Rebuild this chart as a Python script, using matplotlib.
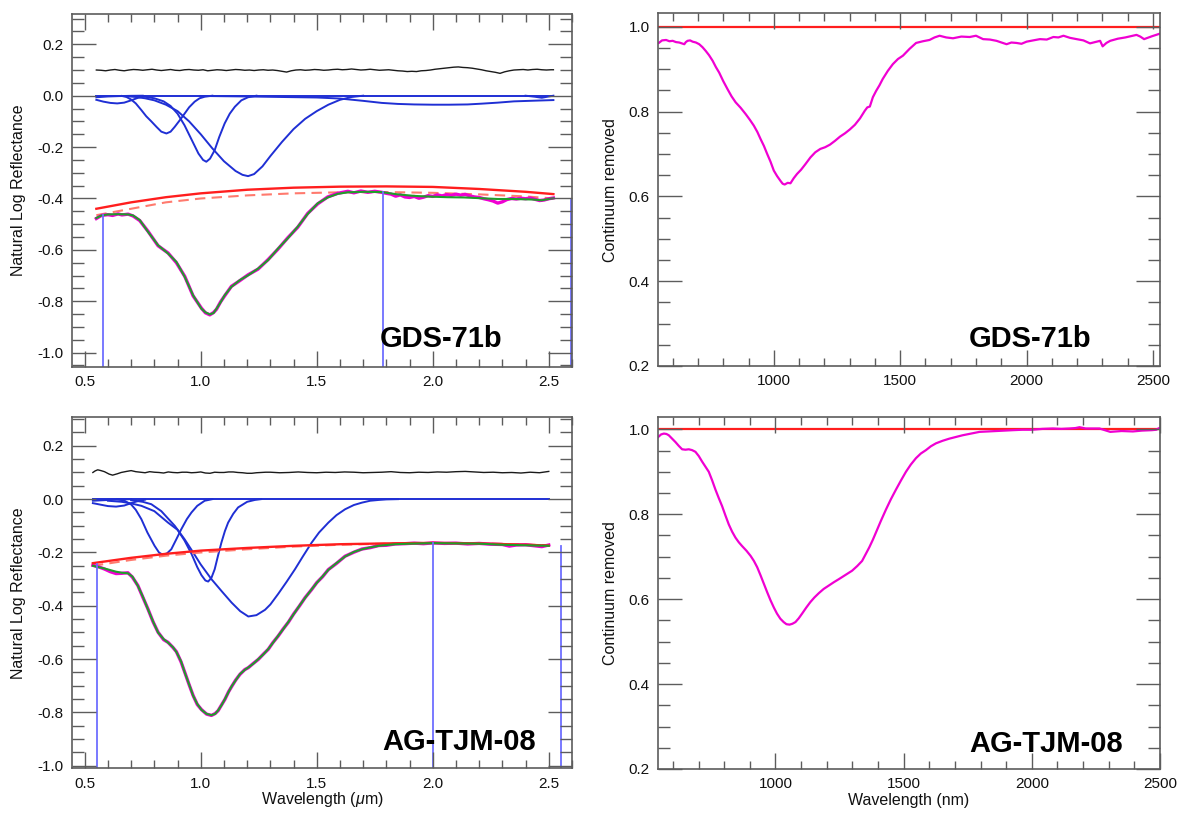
import matplotlib
matplotlib.use("Agg")
import matplotlib.pyplot as plt
from matplotlib.ticker import MultipleLocator, FormatStrFormatter

plt.rcParams['font.family'] = ['Liberation Sans', 'DejaVu Sans']
plt.rcParams['mathtext.fontset'] = 'custom'
plt.rcParams['mathtext.rm'] = 'Liberation Sans'
plt.rcParams['mathtext.it'] = 'Liberation Sans:italic'

# ---------------- GDS-71b (top-left) : natural log reflectance ----------------
gds_wl = [0.550, 0.572, 0.600, 0.644, 0.687, 0.708, 0.737, 0.773, 0.816, 0.859, 0.895,
          0.931, 0.967, 1.003, 1.020, 1.039, 1.055, 1.068, 1.085, 1.103, 1.132, 1.168,
          1.204, 1.247, 1.290, 1.333, 1.375, 1.418, 1.461, 1.504, 1.547, 1.590, 1.634,
          1.705, 1.777, 1.849, 1.921, 1.993, 2.065, 2.136, 2.208, 2.280, 2.346, 2.430,
          2.470, 2.520]
gds_model = [-0.476, -0.466, -0.462, -0.461, -0.462, -0.466, -0.484, -0.530, -0.582, -0.614,
             -0.647, -0.705, -0.777, -0.829, -0.843, -0.851, -0.846, -0.829, -0.805, -0.777,
             -0.744, -0.718, -0.699, -0.673, -0.640, -0.595, -0.555, -0.510, -0.460, -0.419,
             -0.396, -0.382, -0.376, -0.374, -0.375, -0.384, -0.390, -0.393, -0.395, -0.396,
             -0.399, -0.402, -0.402, -0.404, -0.407, -0.399]
gds_data_wl = [0.550, 0.572, 0.600, 0.620, 0.644, 0.660, 0.687, 0.708, 0.737, 0.773, 0.816,
               0.859, 0.895, 0.931, 0.967, 1.003, 1.020, 1.039, 1.055, 1.068, 1.085, 1.103,
               1.132, 1.168, 1.204, 1.247, 1.290, 1.333, 1.375, 1.418, 1.461, 1.504, 1.547,
               1.590, 1.634, 1.660, 1.690, 1.720, 1.750, 1.780, 1.800, 1.820, 1.840, 1.860,
               1.880, 1.900, 1.920, 1.940, 1.960, 1.980, 2.000, 2.020, 2.040, 2.060, 2.080,
               2.100, 2.120, 2.140, 2.160, 2.180, 2.200, 2.220, 2.240, 2.260, 2.280, 2.300,
               2.320, 2.340, 2.360, 2.380, 2.400, 2.420, 2.440, 2.460, 2.480, 2.500, 2.520]
gds_data = [-0.478, -0.466, -0.463, -0.466, -0.460, -0.464, -0.461, -0.468, -0.486, -0.528,
            -0.584, -0.612, -0.650, -0.703, -0.779, -0.827, -0.845, -0.853, -0.844, -0.831,
            -0.803, -0.779, -0.742, -0.720, -0.697, -0.675, -0.638, -0.597, -0.553, -0.512,
            -0.458, -0.421, -0.394, -0.380, -0.372, -0.378, -0.371, -0.376, -0.372, -0.376,
            -0.380, -0.383, -0.391, -0.386, -0.394, -0.396, -0.392, -0.399, -0.395, -0.389,
            -0.392, -0.386, -0.390, -0.385, -0.388, -0.383, -0.387, -0.384, -0.390, -0.394,
            -0.396, -0.401, -0.405, -0.410, -0.418, -0.413, -0.404, -0.400, -0.402, -0.399,
            -0.401, -0.398, -0.403, -0.408, -0.406, -0.401, -0.398]
gds_cont_wl = [0.55, 0.70, 0.85, 1.00, 1.20, 1.40, 1.60, 1.80, 2.00, 2.20, 2.40, 2.52]
gds_cont = [-0.440, -0.415, -0.395, -0.380, -0.366, -0.358, -0.354, -0.353, -0.355, -0.363,
            -0.374, -0.383]
gds_cont2 = [-0.465, -0.440, -0.415, -0.400, -0.388, -0.380, -0.376, -0.375, -0.378, -0.384,
             -0.392, -0.400]
gds_resid_wl = [0.55, 0.57, 0.59, 0.61, 0.63, 0.65, 0.67, 0.69, 0.71, 0.73, 0.75, 0.77, 0.79,
                0.81, 0.83, 0.85, 0.87, 0.89, 0.91, 0.93, 0.95, 0.97, 0.99, 1.01, 1.03, 1.05,
                1.07, 1.09, 1.11, 1.13, 1.15, 1.17, 1.19, 1.21, 1.23, 1.25, 1.27, 1.29, 1.31,
                1.33, 1.35, 1.37, 1.39, 1.41, 1.43, 1.45, 1.47, 1.49, 1.51, 1.53, 1.55, 1.57,
                1.59, 1.61, 1.63, 1.65, 1.67, 1.69, 1.71, 1.73, 1.75, 1.77, 1.79, 1.81, 1.83,
                1.85, 1.87, 1.89, 1.91, 1.93, 1.95, 1.97, 1.99, 2.01, 2.03, 2.05, 2.07, 2.09,
                2.11, 2.13, 2.15, 2.17, 2.19, 2.21, 2.23, 2.25, 2.27, 2.29, 2.31, 2.33, 2.35,
                2.37, 2.39, 2.41, 2.43, 2.45, 2.47, 2.49, 2.51, 2.52]
gds_resid = [0.100, 0.099, 0.097, 0.100, 0.102, 0.099, 0.097, 0.100, 0.102, 0.101, 0.099,
             0.101, 0.103, 0.100, 0.098, 0.100, 0.102, 0.099, 0.098, 0.101, 0.102, 0.100,
             0.099, 0.101, 0.097, 0.099, 0.101, 0.100, 0.098, 0.100, 0.102, 0.101, 0.099,
             0.100, 0.098, 0.100, 0.101, 0.099, 0.100, 0.098, 0.095, 0.092, 0.097, 0.100,
             0.101, 0.099, 0.100, 0.102, 0.101, 0.099, 0.100, 0.102, 0.103, 0.101, 0.102,
             0.104, 0.102, 0.100, 0.101, 0.103, 0.101, 0.099, 0.100, 0.101, 0.099, 0.097,
             0.096, 0.094, 0.095, 0.094, 0.097, 0.098, 0.100, 0.103, 0.105, 0.107, 0.109,
             0.111, 0.112, 0.110, 0.109, 0.107, 0.104, 0.101, 0.097, 0.094, 0.091, 0.087,
             0.093, 0.097, 0.100, 0.101, 0.102, 0.100, 0.102, 0.103, 0.101, 0.100, 0.101,
             0.101]
gds_bands = [
    ([0.55, 2.52], [0.0, 0.0]),
    ([0.55, 0.60, 0.65, 0.70, 0.75], [-0.006, -0.003, -0.0015, -0.0005, 0.0]),
    ([0.55, 0.58, 0.61, 0.64, 0.67, 0.70, 0.73, 0.76],
     [-0.016, -0.023, -0.028, -0.030, -0.027, -0.018, -0.008, -0.002]),
    ([0.66, 0.68, 0.70, 0.72, 0.744, 0.765, 0.787, 0.81, 0.83, 0.852, 0.87, 0.888, 0.91,
      0.931, 0.95, 0.974, 0.995, 1.017, 1.05],
     [-0.001, -0.005, -0.015, -0.030, -0.056, -0.080, -0.100, -0.122, -0.140, -0.147, -0.140,
      -0.121, -0.095, -0.069, -0.045, -0.023, -0.010, -0.004, 0.0]),
    ([0.76, 0.80, 0.84, 0.87, 0.90, 0.93, 0.96, 0.99, 1.01, 1.024, 1.04, 1.06, 1.08, 1.103,
      1.125, 1.147, 1.175, 1.204, 1.24],
     [-0.004, -0.010, -0.022, -0.040, -0.070, -0.115, -0.170, -0.225, -0.250, -0.257, -0.245,
      -0.212, -0.160, -0.108, -0.070, -0.043, -0.018, -0.006, 0.0]),
    ([0.68, 0.72, 0.76, 0.80, 0.85, 0.90, 0.95, 1.00, 1.05, 1.10, 1.15, 1.18, 1.204, 1.23,
      1.266, 1.30, 1.35, 1.40, 1.45, 1.50, 1.55, 1.60, 1.65, 1.70],
     [-0.002, -0.005, -0.010, -0.018, -0.035, -0.060, -0.100, -0.150, -0.205, -0.255, -0.293,
      -0.308, -0.313, -0.305, -0.275, -0.235, -0.180, -0.130, -0.090, -0.060, -0.035, -0.016,
      -0.005, 0.0]),
    ([1.00, 1.20, 1.35, 1.50, 1.60, 1.70, 1.78, 1.85, 1.92, 2.00, 2.07, 2.15, 2.21, 2.28,
      2.35, 2.45, 2.52],
     [-0.001, -0.003, -0.005, -0.007, -0.011, -0.020, -0.028, -0.032, -0.034, -0.035, -0.035,
      -0.034, -0.031, -0.027, -0.022, -0.019, -0.017]),
    ([2.40, 2.44, 2.47, 2.50, 2.52], [0.0, -0.004, -0.008, -0.003, 0.0]),
]
gds_vlines = [(0.579, -0.466), (1.784, -0.375), (2.596, -0.405)]

# ---------------- AG-TJM-08 (bottom-left) ----------------
ag_wl = [0.535, 0.560, 0.585, 0.610, 0.635, 0.660, 0.686, 0.705, 0.729, 0.750, 0.772, 0.795,
         0.816, 0.840, 0.859, 0.880, 0.895, 0.915, 0.931, 0.950, 0.967, 0.985, 1.003, 1.025,
         1.046, 1.062, 1.075, 1.090, 1.104, 1.120, 1.133, 1.150, 1.169, 1.190, 1.205, 1.225,
         1.248, 1.270, 1.291, 1.310, 1.334, 1.355, 1.378, 1.400, 1.425, 1.450, 1.478, 1.500,
         1.525, 1.550, 1.585, 1.622, 1.660, 1.695, 1.730, 1.767, 1.800, 1.839, 1.900, 1.950,
         2.000, 2.100, 2.200, 2.300, 2.400, 2.500]
ag_model = [-0.250, -0.255, -0.260, -0.266, -0.272, -0.276, -0.278, -0.290, -0.325, -0.365,
            -0.412, -0.460, -0.500, -0.525, -0.538, -0.555, -0.573, -0.608, -0.650, -0.695,
            -0.737, -0.768, -0.790, -0.805, -0.810, -0.805, -0.792, -0.772, -0.750, -0.723,
            -0.702, -0.680, -0.656, -0.640, -0.631, -0.618, -0.600, -0.582, -0.562, -0.540,
            -0.512, -0.488, -0.460, -0.432, -0.400, -0.370, -0.338, -0.314, -0.290, -0.265,
            -0.240, -0.215, -0.198, -0.188, -0.181, -0.175, -0.172, -0.169, -0.167, -0.166,
            -0.165, -0.166, -0.167, -0.171, -0.173, -0.175]
ag_data_wl = [0.535, 0.560, 0.585, 0.610, 0.635, 0.660, 0.686, 0.705, 0.729, 0.750, 0.772,
              0.795, 0.816, 0.840, 0.859, 0.880, 0.895, 0.915, 0.931, 0.950, 0.967, 0.985,
              1.003, 1.025, 1.046, 1.062, 1.075, 1.090, 1.104, 1.120, 1.133, 1.150, 1.169,
              1.190, 1.205, 1.225, 1.248, 1.270, 1.291, 1.310, 1.334, 1.355, 1.378, 1.400,
              1.425, 1.450, 1.478, 1.500, 1.525, 1.550, 1.585, 1.622, 1.660, 1.695, 1.730,
              1.767, 1.800, 1.839, 1.880, 1.920, 1.960, 2.000, 2.050, 2.100, 2.150, 2.200,
              2.250, 2.300, 2.330, 2.360, 2.400, 2.440, 2.470, 2.500]
ag_data = [-0.248, -0.254, -0.262, -0.272, -0.279, -0.278, -0.276, -0.292, -0.324, -0.367,
           -0.411, -0.461, -0.499, -0.527, -0.537, -0.556, -0.572, -0.610, -0.649, -0.696,
           -0.736, -0.770, -0.789, -0.806, -0.811, -0.804, -0.793, -0.771, -0.751, -0.722,
           -0.703, -0.679, -0.657, -0.639, -0.632, -0.617, -0.601, -0.581, -0.563, -0.539,
           -0.513, -0.487, -0.461, -0.431, -0.401, -0.369, -0.339, -0.313, -0.291, -0.264,
           -0.241, -0.214, -0.199, -0.187, -0.182, -0.174, -0.173, -0.168, -0.167, -0.165,
           -0.167, -0.164, -0.166, -0.165, -0.168, -0.166, -0.169, -0.170, -0.176, -0.172,
           -0.171, -0.175, -0.178, -0.172]
ag_cont_wl = [0.535, 0.70, 0.85, 1.00, 1.20, 1.40, 1.60, 1.80, 2.00, 2.20, 2.40, 2.50]
ag_cont = [-0.240, -0.220, -0.205, -0.193, -0.183, -0.175, -0.169, -0.166, -0.164, -0.166,
           -0.171, -0.174]
ag_cont2 = [-0.250, -0.228, -0.212, -0.200, -0.188, -0.178, -0.171, -0.167, -0.165, -0.166,
            -0.170, -0.173]
ag_resid_wl = [0.535, 0.545, 0.556, 0.570, 0.585, 0.605, 0.620, 0.640, 0.657, 0.680, 0.700,
               0.720, 0.740, 0.760, 0.780, 0.800, 0.820, 0.840, 0.860, 0.880, 0.900, 0.920,
               0.940, 0.960, 0.980, 1.000, 1.020, 1.040, 1.060, 1.080, 1.100, 1.120, 1.140,
               1.160, 1.180, 1.200, 1.220, 1.240, 1.260, 1.280, 1.300, 1.340, 1.380, 1.420,
               1.460, 1.500, 1.540, 1.580, 1.620, 1.660, 1.700, 1.740, 1.780, 1.820, 1.860,
               1.900, 1.940, 1.980, 2.020, 2.060, 2.100, 2.140, 2.180, 2.220, 2.260, 2.300,
               2.340, 2.380, 2.420, 2.460, 2.500]
ag_resid = [0.100, 0.106, 0.110, 0.107, 0.103, 0.094, 0.090, 0.095, 0.100, 0.104, 0.107,
            0.103, 0.101, 0.099, 0.103, 0.101, 0.100, 0.098, 0.102, 0.100, 0.099, 0.101,
            0.101, 0.099, 0.100, 0.102, 0.098, 0.097, 0.101, 0.100, 0.100, 0.102, 0.102,
            0.100, 0.099, 0.097, 0.097, 0.099, 0.100, 0.101, 0.101, 0.099, 0.100, 0.102,
            0.100, 0.099, 0.101, 0.100, 0.102, 0.101, 0.099, 0.100, 0.101, 0.103, 0.100,
            0.099, 0.101, 0.100, 0.102, 0.101, 0.103, 0.104, 0.102, 0.100, 0.101, 0.099,
            0.100, 0.098, 0.101, 0.099, 0.104]
ag_bands = [
    ([0.535, 2.50], [0.0, 0.0]),
    ([0.535, 0.58, 0.62, 0.66, 0.70], [-0.006, -0.004, -0.002, -0.001, 0.0]),
    ([0.535, 0.57, 0.60, 0.635, 0.67, 0.70, 0.73, 0.76],
     [-0.015, -0.021, -0.026, -0.028, -0.024, -0.015, -0.007, -0.002]),
    ([0.64, 0.671, 0.70, 0.72, 0.744, 0.77, 0.801, 0.82, 0.837, 0.855, 0.873, 0.895, 0.916,
      0.94, 0.96, 0.985, 1.017, 1.05],
     [0.0, -0.006, -0.020, -0.040, -0.075, -0.125, -0.175, -0.200, -0.209, -0.203, -0.188,
      -0.150, -0.113, -0.075, -0.050, -0.025, -0.006, 0.0]),
    ([0.60, 0.66, 0.70, 0.744, 0.80, 0.859, 0.90, 0.93, 0.96, 0.985, 1.003, 1.02, 1.032,
      1.046, 1.06, 1.075, 1.089, 1.104, 1.118, 1.14, 1.161, 1.20, 1.233, 1.26],
     [-0.006, -0.010, -0.016, -0.025, -0.045, -0.088, -0.115, -0.155, -0.205, -0.255, -0.285,
      -0.305, -0.309, -0.295, -0.263, -0.210, -0.163, -0.120, -0.088, -0.055, -0.031, -0.010,
      -0.003, 0.0]),
    ([0.70, 0.75, 0.787, 0.83, 0.888, 0.93, 0.96, 1.00, 1.046, 1.09, 1.133, 1.17, 1.205, 1.24,
      1.277, 1.30, 1.334, 1.37, 1.406, 1.44, 1.478, 1.51, 1.55, 1.585, 1.622, 1.66, 1.695,
      1.73, 1.767, 1.80, 1.85],
     [-0.004, -0.010, -0.019, -0.045, -0.100, -0.150, -0.190, -0.245, -0.300, -0.345, -0.388,
      -0.420, -0.440, -0.435, -0.415, -0.395, -0.355, -0.310, -0.263, -0.215, -0.163, -0.125,
      -0.088, -0.060, -0.038, -0.022, -0.013, -0.006, -0.003, -0.001, 0.0]),
]
ag_vlines = [(0.553, -0.245), (2.000, -0.165), (2.551, -0.174)]

# ---------------- continuum removed (right panels) ----------------
gds_cr_nm = [545, 558, 574, 587, 600, 613, 626, 636, 646, 652, 659, 669, 679, 692, 705, 718,
             731, 744, 758, 771, 784, 800, 817, 833, 849, 869, 889, 905, 921, 935, 948, 961,
             974, 987, 1000, 1013, 1026, 1035, 1043, 1055, 1066, 1079, 1092, 1108, 1125, 1145,
             1164, 1184, 1203, 1222, 1242, 1262, 1282, 1301, 1321, 1341, 1360, 1370, 1380,
             1392, 1405, 1418, 1431, 1451, 1471, 1491, 1511, 1537, 1563, 1590, 1616, 1636,
             1656, 1682, 1709, 1742, 1775, 1800, 1828, 1855, 1881, 1901, 1921, 1940, 1960,
             1980, 2000, 2026, 2053, 2080, 2106, 2126, 2146, 2172, 2198, 2225, 2251, 2271,
             2291, 2301, 2316, 2331, 2361, 2391, 2413, 2435, 2450, 2465, 2497, 2528]
gds_cr = [0.962, 0.968, 0.969, 0.966, 0.967, 0.964, 0.963, 0.961, 0.959, 0.964, 0.967, 0.968,
          0.965, 0.963, 0.959, 0.952, 0.943, 0.933, 0.920, 0.905, 0.892, 0.872, 0.853, 0.836,
          0.822, 0.809, 0.794, 0.781, 0.767, 0.752, 0.735, 0.719, 0.700, 0.682, 0.661, 0.648,
          0.637, 0.630, 0.628, 0.632, 0.631, 0.643, 0.653, 0.663, 0.676, 0.692, 0.704, 0.712,
          0.716, 0.722, 0.731, 0.741, 0.749, 0.758, 0.769, 0.784, 0.802, 0.810, 0.812, 0.834,
          0.849, 0.862, 0.877, 0.896, 0.912, 0.924, 0.932, 0.948, 0.962, 0.966, 0.969, 0.975,
          0.979, 0.975, 0.973, 0.977, 0.976, 0.979, 0.971, 0.970, 0.967, 0.963, 0.959, 0.963,
          0.962, 0.960, 0.965, 0.968, 0.971, 0.970, 0.976, 0.975, 0.979, 0.974, 0.971, 0.968,
          0.961, 0.964, 0.967, 0.954, 0.962, 0.967, 0.972, 0.975, 0.978, 0.981, 0.977, 0.971,
          0.978, 0.984]
ag_cr_nm = [543, 554, 565, 575, 584, 597, 610, 623, 636, 649, 662, 675, 688, 701, 714, 727,
            740, 753, 766, 779, 792, 805, 818, 831, 844, 857, 870, 887, 903, 916, 929, 942,
            955, 968, 981, 994, 1006, 1019, 1032, 1043, 1055, 1066, 1078, 1091, 1104, 1120,
            1136, 1152, 1169, 1188, 1208, 1228, 1247, 1273, 1299, 1319, 1338, 1352, 1366,
            1380, 1392, 1411, 1431, 1450, 1470, 1490, 1509, 1528, 1548, 1567, 1587, 1606,
            1626, 1652, 1678, 1704, 1730, 1763, 1796, 1829, 1861, 1894, 1926, 1963, 2000,
            2041, 2082, 2115, 2147, 2170, 2186, 2210, 2240, 2264, 2290, 2306, 2350, 2394,
            2430, 2468, 2485, 2497]
ag_cr = [0.982, 0.988, 0.990, 0.989, 0.986, 0.978, 0.970, 0.961, 0.953, 0.952, 0.953, 0.951,
         0.947, 0.937, 0.924, 0.912, 0.900, 0.880, 0.858, 0.838, 0.819, 0.797, 0.776, 0.759,
         0.745, 0.734, 0.725, 0.714, 0.702, 0.690, 0.675, 0.656, 0.636, 0.616, 0.597, 0.580,
         0.566, 0.554, 0.546, 0.541, 0.540, 0.542, 0.546, 0.555, 0.566, 0.580, 0.593, 0.604,
         0.614, 0.624, 0.632, 0.640, 0.647, 0.657, 0.667, 0.678, 0.690, 0.706, 0.722, 0.740,
         0.757, 0.784, 0.811, 0.835, 0.858, 0.880, 0.900, 0.917, 0.932, 0.943, 0.951, 0.960,
         0.967, 0.973, 0.978, 0.982, 0.986, 0.990, 0.994, 0.995, 0.996, 0.997, 0.998, 0.999,
         0.999, 1.001, 1.002, 1.001, 1.002, 1.003, 1.005, 1.002, 1.002, 1.002, 0.997, 0.994,
         0.996, 0.995, 0.997, 0.998, 0.999, 1.003]

labels = ["GDS-71b", "AG-TJM-08"]

# ---------------- styles ----------------
C_AX = '#5c5c5c'
C_BLUE = '#1f2fd4'
C_VLINE = '#6e6eff'
C_RED = '#ff1e1e'
C_RED2 = '#ff7a6e'
C_GREEN = '#1f9e2a'
C_MAG = '#f000d2'

fig = plt.figure(figsize=(11.82, 8.14), dpi=100)
ax_tl = fig.add_axes([0.0609, 0.5491, 0.4230, 0.4337])
ax_bl = fig.add_axes([0.0609, 0.0559, 0.4230, 0.4318])
ax_tr = fig.add_axes([0.5567, 0.5504, 0.4247, 0.4333])
ax_br = fig.add_axes([0.5567, 0.0553, 0.4247, 0.4324])


def style(ax, xmaj, xmin, ymaj, ymin, xfmt, yfmt):
    ax.set_axisbelow(False)
    ax.xaxis.set_major_locator(MultipleLocator(xmaj))
    ax.xaxis.set_minor_locator(MultipleLocator(xmin))
    ax.yaxis.set_major_locator(MultipleLocator(ymaj))
    ax.yaxis.set_minor_locator(MultipleLocator(ymin))
    ax.xaxis.set_major_formatter(FormatStrFormatter(xfmt))
    ax.yaxis.set_major_formatter(FormatStrFormatter(yfmt))
    ax.tick_params(which='both', direction='in', top=True, right=True, color=C_AX,
                   width=1.0, labelsize=11, pad=6, labelcolor='#111111')
    ax.tick_params(axis='x', which='major', length=11.5)
    ax.tick_params(axis='x', which='minor', length=6)
    ax.tick_params(axis='y', which='major', length=17.5)
    ax.tick_params(axis='y', which='minor', length=8.5)
    for s in ax.spines.values():
        s.set_color(C_AX)
        s.set_linewidth(1.2)


def log_panel(ax, wl, model, dwl, data, cwl, cont, cont2, rwl, resid, bands, vlines,
              ylim):
    for bx, by in bands:
        ax.plot(bx, by, color=C_BLUE, lw=1.4, zorder=2)
    ax.plot(rwl, resid, color='#1a1a1a', lw=1.0, zorder=2)
    ax.plot(cwl, cont2, color=C_RED2, lw=1.5, ls=(0, (5, 3)), zorder=2)
    ax.plot(cwl, cont, color=C_RED, lw=1.7, zorder=2.2)
    ax.plot(dwl, data, color=C_MAG, lw=2.4, zorder=2.1)
    ax.plot(wl, model, color=C_GREEN, lw=1.5, zorder=2.3)
    for vx, vy in vlines:
        ax.plot([vx, vx], [vy, ylim[0]], color=C_VLINE, lw=1.3, zorder=2.4)
    ax.set_xlim(0.445, 2.60)
    ax.set_ylim(*ylim)
    style(ax, 0.5, 0.1, 0.2, 0.05, '%.1f', '%.1f')
    ax.set_ylabel('Natural Log Reflectance', fontsize=11.5, color='#111111')
    ax.yaxis.set_label_coords(-0.1066, 0.5)
    ax.yaxis.label.set_va('center')


def cr_panel(ax, nm, cr, xlim, ylim):
    ax.axhline(1.0, color=C_RED, lw=1.6, zorder=2)
    ax.plot(nm, cr, color=C_MAG, lw=1.6, zorder=2.1)
    ax.set_xlim(*xlim)
    ax.set_ylim(*ylim)
    style(ax, 500, 100, 0.2, 0.05, '%d', '%.1f')
    ax.set_ylabel('Continuum removed', fontsize=11.5, color='#111111')
    ax.yaxis.set_label_coords(-0.0942, 0.5)
    ax.yaxis.label.set_va('center')


log_panel(ax_tl, gds_wl, gds_model, gds_data_wl, gds_data, gds_cont_wl, gds_cont, gds_cont2,
          gds_resid_wl, gds_resid, gds_bands, gds_vlines, (-1.056, 0.318))
log_panel(ax_bl, ag_wl, ag_model, ag_data_wl, ag_data, ag_cont_wl, ag_cont, ag_cont2,
          ag_resid_wl, ag_resid, ag_bands, ag_vlines, (-1.010, 0.308))
cr_panel(ax_tr, gds_cr_nm, gds_cr, (542, 2528), (0.2, 1.032))
cr_panel(ax_br, ag_cr_nm, ag_cr, (542, 2500), (0.2, 1.029))

ax_tl.text(0.86, 0.057, labels[0], transform=ax_tl.transAxes, ha='right', va='baseline',
           fontsize=21, fontweight='bold')
ax_tr.text(0.864, 0.054, labels[0], transform=ax_tr.transAxes, ha='right', va='baseline',
           fontsize=21, fontweight='bold')
ax_bl.text(0.928, 0.053, labels[1], transform=ax_bl.transAxes, ha='right', va='baseline',
           fontsize=21, fontweight='bold')
ax_br.text(0.927, 0.049, labels[1], transform=ax_br.transAxes, ha='right', va='baseline',
           fontsize=21, fontweight='bold')

ax_bl.set_xlabel(r'Wavelength ($\mathit{\mu}$m)', fontsize=11.5, color='#111111')
ax_bl.xaxis.set_label_coords(0.5, -0.0896)
ax_bl.xaxis.label.set_va('center')
ax_br.set_xlabel('Wavelength (nm)', fontsize=11.5, color='#111111')
ax_br.xaxis.set_label_coords(0.5, -0.0896)
ax_br.xaxis.label.set_va('center')

fig.savefig('out.png', dpi=100)
